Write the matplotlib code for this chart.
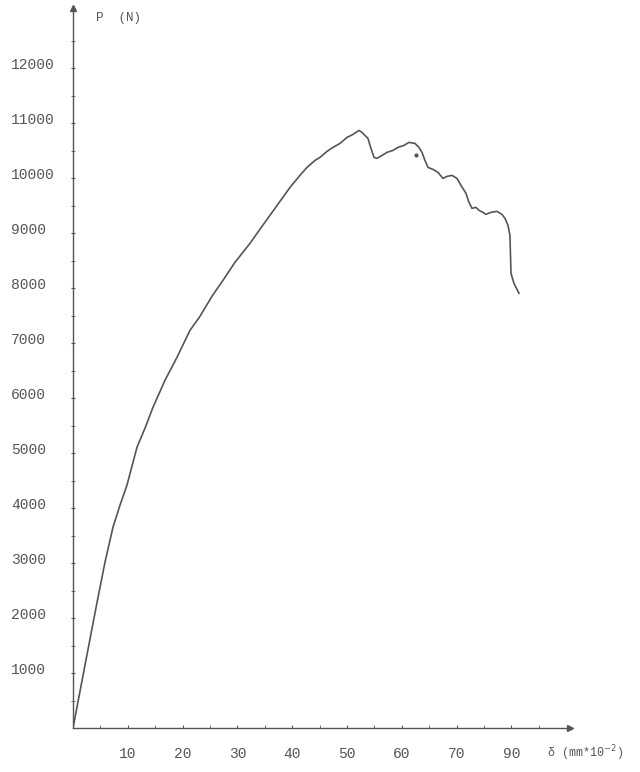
import numpy as np
import matplotlib
matplotlib.use('Agg')
import matplotlib.pyplot as plt
import matplotlib.transforms as mtransforms

# load-displacement curve
disp = [0, 2.19, 4.29, 5.84, 7.30, 8.58, 9.85, 11.68, 13.14, 14.60, 16.79, 18.98,
        21.35, 23.18, 25.36, 27.37, 29.56, 32.30, 34.49, 36.86, 39.60, 41.42, 42.70,
        44.16, 45.07, 46.35, 47.45, 48.72, 50.00, 51.09, 52.19, 52.74, 53.83, 54.38,
        54.93, 55.47, 56.39, 57.30, 58.39, 59.31, 60.40, 61.31, 62.41, 63.14, 63.69,
        64.23, 64.78, 65.69, 66.61, 67.52, 68.25, 69.16, 70.07, 70.80, 71.72, 72.26,
        72.81, 73.54, 74.09, 74.82, 75.36, 76.28, 77.37, 78.28, 78.83, 79.38, 79.74,
        79.84, 79.93, 80.47, 81.39]
load = [0, 1145, 2236, 3018, 3655, 4055, 4418, 5109, 5455, 5836, 6327, 6745,
        7236, 7491, 7855, 8145, 8473, 8818, 9127, 9455, 9836, 10055, 10200,
        10327, 10382, 10491, 10564, 10636, 10745, 10800, 10873, 10836, 10727, 10545,
        10382, 10364, 10418, 10473, 10509, 10564, 10600, 10655, 10636, 10564, 10473,
        10327, 10200, 10164, 10109, 10000, 10036, 10055, 10000, 9873, 9727, 9564,
        9455, 9473, 9418, 9382, 9345, 9382, 9400, 9345, 9273, 9145, 8964,
        8600, 8273, 8091, 7909]

# stray dot on the scan
dot_x = [62.6]
dot_y = [10418]

x_ticks = [10, 20, 30, 40, 50, 60, 70, 80]
x_labels = ['10', '20', '30', '40', '50', '60', '70', '90']
y_ticks = [1000, 2000, 3000, 4000, 5000, 6000, 7000, 8000, 9000, 10000, 11000, 12000]
y_labels = [str(v) for v in y_ticks]

ink = '#555555'

fig = plt.figure(figsize=(6.4, 7.72), dpi=100)
ax = fig.add_axes([73/640, 44/772, 497/640, 720/772])

ax.plot(disp, load, color=ink, lw=1.2)
ax.plot(dot_x, dot_y, 'o', color=ink, ms=2)

ax.set_xlim(0, 90.7)
ax.set_ylim(0, 13100)

for s in ['top', 'right']:
    ax.spines[s].set_visible(False)
for s in ['left', 'bottom']:
    ax.spines[s].set_color(ink)
    ax.spines[s].set_linewidth(1.0)

# arrow heads on the axes
ax.plot([1], [0], marker='>', ms=5, color=ink, transform=ax.transAxes, clip_on=False)
ax.plot([0], [1], marker='^', ms=5, color=ink, transform=ax.transAxes, clip_on=False)

ax.set_xticks(x_ticks)
ax.set_xticklabels(x_labels)
ax.set_xticks(np.arange(5, 90, 10), minor=True)
ax.set_yticks(y_ticks)
ax.set_yticklabels(y_labels)
ax.set_yticks(np.arange(500, 13000, 1000), minor=True)

ax.tick_params(axis='x', which='both', direction='in', length=2.5, color=ink,
               pad=14, labelsize=10.5, labelcolor=ink)
ax.tick_params(axis='y', which='both', direction='inout', length=3, color=ink,
               pad=43, labelsize=10.5, labelcolor=ink)
for lab in ax.get_xticklabels() + ax.get_yticklabels():
    lab.set_family('Liberation Mono')
# y labels sit a little above their ticks in the scan
shift = mtransforms.ScaledTranslation(0, 5/100, fig.dpi_scale_trans)
for lab in ax.get_yticklabels():
    lab.set_horizontalalignment('left')
    lab.set_transform(lab.get_transform() + shift)

fig.text(96/640, 1 - 18/772, 'P  (N)', family='Liberation Mono', fontsize=9,
         color=ink, va='center', ha='left')
fig.text(547/640, 1 - 753/772, r'δ (mm*10$^{-2}$)', family='Liberation Mono',
         fontsize=8.5, color=ink, va='center', ha='left')

fig.savefig('out.png', dpi=100, facecolor='white')
